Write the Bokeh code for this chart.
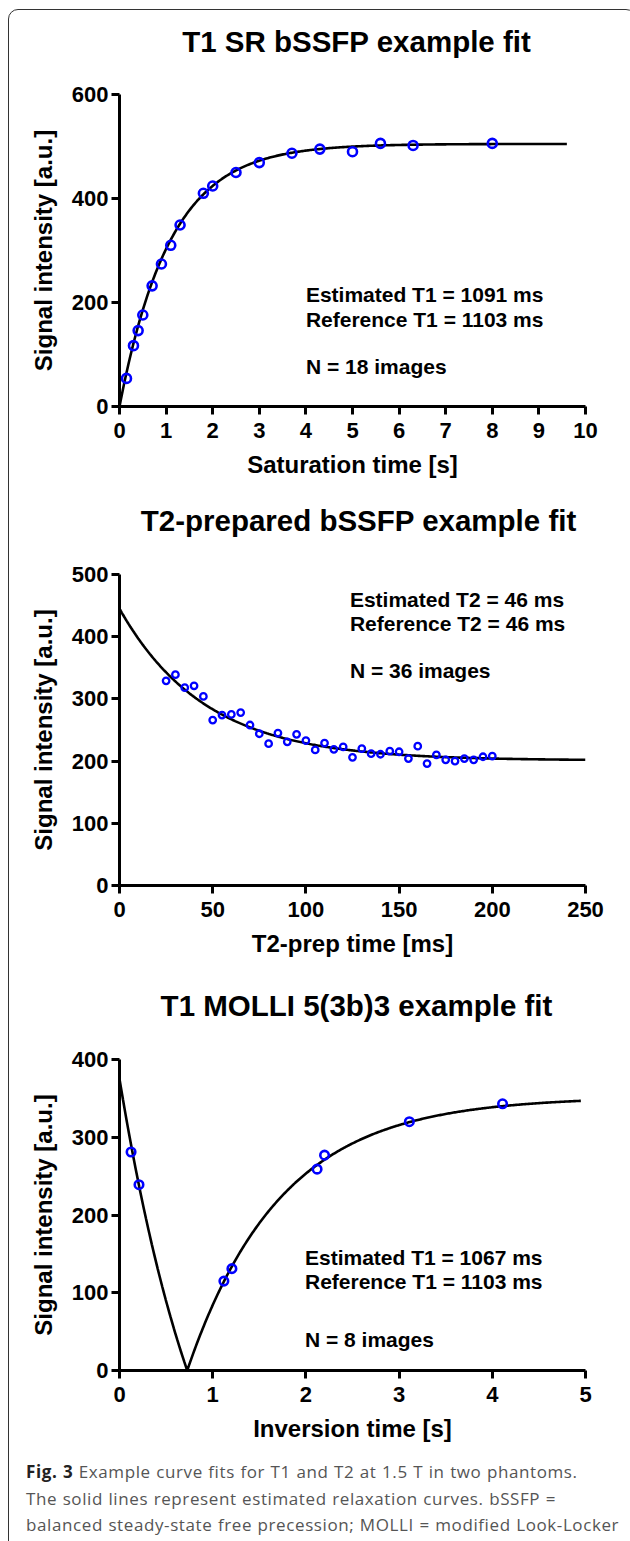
import numpy as np
from bokeh.plotting import figure
from bokeh.models import Range1d, FixedTicker, Label, Div
from bokeh.layouts import column
from bokeh.embed import file_html
from bokeh.resources import INLINE

# ---------------- data ----------------
# Panel 1: T1 saturation-recovery bSSFP
sr_time = [0.15, 0.3, 0.4, 0.5, 0.7, 0.9, 1.1, 1.3, 1.8, 2.0, 2.5, 3.0, 3.7, 4.3, 5.0, 5.6, 6.3, 8.0]
sr_signal = [54, 117, 146, 176, 232, 274, 310, 349, 410, 424, 450, 469, 487, 495, 490, 506, 502, 506]
sr_t1 = 1.091          # s (estimated T1)
sr_m0 = 505            # plateau of the fitted curve
sr_curve_end = 9.6
sr_xticks = [0, 1, 2, 3, 4, 5, 6, 7, 8, 9, 10]
sr_yticks = [0, 200, 400, 600]
sr_text = ["Estimated  T1 = 1091 ms", "Reference T1 = 1103 ms", "N = 18 images"]
sr_text_y = [215, 168, 77]
sr_text_x = 4.0

# Panel 2: T2-prepared bSSFP
t2_time = [25, 30, 35, 40, 45, 50, 55, 60, 65, 70, 75, 80, 85, 90, 95, 100, 105, 110,
           115, 120, 125, 130, 135, 140, 145, 150, 155, 160, 165, 170, 175, 180, 185, 190, 195, 200]
t2_signal = [329, 339, 318, 321, 304, 266, 274, 275, 278, 258, 244, 228, 245, 231, 243, 233, 218, 229,
             219, 223, 206, 220, 212, 211, 216, 215, 204, 224, 196, 210, 202, 200, 204, 202, 207, 208]
t2_value = 46.0        # ms (estimated T2)
t2_amp = 244
t2_offset = 201
t2_curve_end = 250
t2_xticks = [0, 50, 100, 150, 200, 250]
t2_yticks = [0, 100, 200, 300, 400, 500]
t2_text = ["Estimated  T2 = 46 ms", "Reference T2 = 46 ms", "N = 36 images"]
t2_text_y = [460, 422, 345]
t2_text_x = 123.6

# Panel 3: T1 MOLLI 5(3b)3
mo_time = [0.124, 0.209, 1.12, 1.206, 2.12, 2.20, 3.11, 4.11]
mo_signal = [281, 239, 115, 131, 259, 277, 320, 343]
mo_t1 = 1.067          # s (estimated T1)
mo_a = 352
mo_b = 727
mo_curve_end = 4.95
mo_xticks = [0, 1, 2, 3, 4, 5]
mo_yticks = [0, 100, 200, 300, 400]
mo_text = ["Estimated  T1 = 1067 ms", "Reference T1 = 1103 ms", "N = 8 images"]
mo_text_y = [145, 115, 40]
mo_text_x = 1.99

titles = ["T1 SR bSSFP example fit", "T2-prepared bSSFP example fit", "T1 MOLLI 5(3b)3 example fit"]

caption_html = ("<div style='padding-left:12px'>"
                "<b style='color:#222'>Fig. 3</b> Example curve fits for T1 and T2 at 1.5 T in two phantoms.<br>"
                "The solid lines represent estimated relaxation curves. bSSFP =<br>"
                "balanced steady-state free precession; MOLLI = modified Look-Locker<br>"
                "inversion recovery; SR = saturation recovery</div>")

FONT = "Liberation Sans"
BLUE = "#0000ff"
FIG_W = 616
TITLE_H = 50


def title_div(text, pad_top, left, frame_w):
    html = ("<div style=\"padding-top:%dpx;margin-left:%dpx;width:%dpx;text-align:center;"
            "font-family:'Liberation Sans',Arial,sans-serif;font-weight:bold;font-size:29.5px;"
            "line-height:33px;color:black;white-space:nowrap\">%s</div>"
            % (pad_top, left, frame_w, text))
    return Div(text=html, width=FIG_W, height=TITLE_H)


def make_fig(xr, yr, xt, yt, xlabel, height, mb_left, mb_right, mb_top, mb_bottom):
    p = figure(width=FIG_W, height=height, x_range=Range1d(*xr), y_range=Range1d(*yr),
               output_backend="svg", toolbar_location=None,
               min_border_left=mb_left, min_border_right=mb_right,
               min_border_top=mb_top, min_border_bottom=mb_bottom)
    p.title.visible = False
    p.outline_line_color = None
    p.grid.visible = False
    p.xaxis.ticker = FixedTicker(ticks=xt)
    p.yaxis.ticker = FixedTicker(ticks=yt)
    p.xaxis.axis_label = xlabel
    p.yaxis.axis_label = "Signal intensity [a.u.]"
    for ax in (p.xaxis, p.yaxis):
        ax.axis_line_width = 3
        ax.axis_line_color = "black"
        ax.major_tick_line_width = 3
        ax.major_tick_line_color = "black"
        ax.major_tick_in = 0
        ax.major_tick_out = 8
        ax.minor_tick_line_color = None
        ax.major_label_text_font = FONT
        ax.major_label_text_font_style = "bold"
        ax.major_label_text_font_size = "22px"
        ax.major_label_text_color = "black"
        ax.axis_label_text_font = FONT
        ax.axis_label_text_font_style = "bold"
        ax.axis_label_text_font_size = "24px"
        ax.axis_label_text_color = "black"
    p.xaxis.major_label_standoff = 8
    p.yaxis.major_label_standoff = 3
    p.xaxis.axis_label_standoff = 10
    p.yaxis.axis_label_standoff = 12
    return p


def add_text(p, x, ys, lines):
    for yy, s in zip(ys, lines):
        p.add_layout(Label(x=x, y=yy, text=s, text_font=FONT, text_font_style="bold",
                           text_font_size="21px", text_color="black",
                           text_baseline="alphabetic", text_align="left"))


# ---------- panel 1 ----------
t1 = title_div(titles[0], 10, 108, 469)
p1 = make_fig((0, 10), (0, 600), sr_xticks, sr_yticks,
              "Saturation time [s]", 467 - TITLE_H, 108, 39, 74 - TITLE_H, 81)
tc1 = np.linspace(0, sr_curve_end, 400)
p1.line(tc1, sr_m0 * (1 - np.exp(-tc1 / sr_t1)), line_color="black", line_width=2.6)
p1.scatter(sr_time, sr_signal, marker="circle", size=9, fill_color=None,
           line_color=BLUE, line_width=2.6)
add_text(p1, sr_text_x, sr_text_y, sr_text)

# ---------- panel 2 ----------
t2 = title_div(titles[1], 12, 110, 469)
p2 = make_fig((0, 250), (0, 500), t2_xticks, t2_yticks,
              "T2-prep time [ms]", 472 - TITLE_H, 110, 37, 77 - TITLE_H, 84)
tc2 = np.linspace(0, t2_curve_end, 400)
p2.line(tc2, t2_offset + t2_amp * np.exp(-tc2 / t2_value), line_color="black", line_width=2.6)
p2.scatter(t2_time, t2_signal, marker="circle", size=6.5, fill_color=None,
           line_color=BLUE, line_width=2.3)
add_text(p2, t2_text_x, t2_text_y, t2_text)

# ---------- panel 3 ----------
t3 = title_div(titles[2], 15, 109, 467)
p3 = make_fig((0, 5), (0, 400), mo_xticks, mo_yticks,
              "Inversion time [s]", 475 - TITLE_H, 109, 40, 80 - TITLE_H, 84)
mo_t1star = mo_t1 / (mo_b / mo_a - 1)
t_null = mo_t1star * np.log(mo_b / mo_a)
tc3 = np.sort(np.concatenate([np.linspace(0, mo_curve_end, 400), [t_null]]))
p3.line(tc3, np.abs(mo_a - mo_b * np.exp(-tc3 / mo_t1star)), line_color="black", line_width=2.6)
p3.scatter(mo_time, mo_signal, marker="circle", size=8.5, fill_color=None,
           line_color=BLUE, line_width=2.6)
add_text(p3, mo_text_x, mo_text_y, mo_text)

# ---------- caption ----------
cap = Div(text=caption_html, width=FIG_W, height=108,
          styles={"font-family": "'Open Sans', 'Noto Sans', sans-serif", "font-size": "17px",
                  "letter-spacing": "0.6px", "word-spacing": "0.5px",
                  "color": "#555", "line-height": "26.7px", "white-space": "nowrap"})

layout = column(t1, p1, t2, p2, t3, p3, cap,
                styles={"border": "1.5px solid #333", "border-radius": "10px",
                        "margin-top": "9px", "margin-left": "8px"})

open("out.html", "w").write(file_html(layout, INLINE))
